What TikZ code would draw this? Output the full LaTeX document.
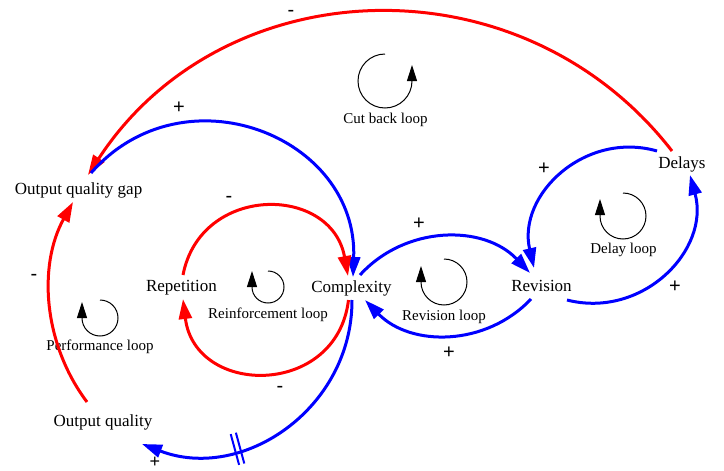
\documentclass[tikz,border=0pt]{standalone}
\usepackage{fontspec}
\setmainfont{Liberation Serif}
\newfontfamily\signfont{Liberation Sans}
\usetikzlibrary{arrows.meta}
\begin{document}
\begin{tikzpicture}[x=1pt,y=-1pt,
  var/.style={font=\fontsize{17}{20}\selectfont, inner sep=0pt, anchor=base},
  looplbl/.style={font=\fontsize{15}{18}\selectfont, inner sep=0pt, anchor=base},
  sgn/.style={font=\signfont\fontsize{20}{24}\selectfont, inner sep=0pt},
  poslink/.style={draw=blue, line width=3pt, -{Triangle[length=20pt,width=13pt]}},
  neglink/.style={draw=red, line width=3pt, -{Triangle[length=20pt,width=13pt]}},
  loopsym/.style={draw=black, line width=1pt, -{Triangle[length=16pt,width=10pt]}},
  delaybar/.style={draw=blue, line width=2pt},
]
\useasboundingbox (0,0) rectangle (724,471);

% variables
\node[var] (gap)    at (78.5,194)  {Output quality gap};
\node[var] (delays) at (682,168)   {Delays};
\node[var] (rep)    at (181.5,291.7) {Repetition};
\node[var] (cplx)   at (351.5,292.7) {Complexity};
\node[var] (rev)    at (541.5,291.7) {Revision};
\node[var] (oq)     at (103,426.7) {Output quality};

% loop labels
\node[looplbl] (cutlbl)  at (385.5,123) {Cut back loop};
\node[looplbl] (dellbl)  at (623.5,253) {Delay loop};
\node[looplbl] (reinlbl) at (268,318)   {Reinforcement loop};
\node[looplbl] (revlbl)  at (444,320)   {Revision loop};
\node[looplbl] (perflbl) at (100,350.7) {Performance loop};

% connector end points
\coordinate (dOut)  at (672,151);
\coordinate (gIn)   at (88,175);
\coordinate (gOut)  at (91,173);
\coordinate (cIn1)  at (353,277);
\coordinate (rOut)  at (183,275);
\coordinate (cIn2)  at (348,276);
\coordinate (cOut1) at (348.5,300);
\coordinate (rIn)   at (183,299);
\coordinate (cOut2) at (352,300);
\coordinate (qIn)   at (142,444);
\coordinate (cOut3) at (360,275);
\coordinate (vIn1)  at (530,273);
\coordinate (vOut1) at (531,299);
\coordinate (cIn3)  at (365,300);
\coordinate (dOut2) at (657,151);
\coordinate (vIn2)  at (534,268);
\coordinate (vOut2) at (567,300);
\coordinate (dIn)   at (690,175);
\coordinate (qOut)  at (87,402);
\coordinate (gIn2)  at (73,202);

% connectors
\draw[neglink] (dOut) .. controls (520.9,-43.8) and (222.6,-31.5) .. (gIn);
\draw[poslink] (gOut) .. controls (183.8,67.1) and (358.1,136.3) .. (cIn1);
\draw[neglink] (rOut) .. controls (200.7,183.7) and (331.4,184.5) .. (cIn2);
\draw[neglink] (cOut1) .. controls (336.8,397.7) and (195,396.9) .. (rIn);
\draw[poslink] (cOut2) .. controls (352.3,408.1) and (242.9,482.7) .. (qIn);
\draw[poslink] (cOut3) .. controls (405.4,225.1) and (483.5,224.2) .. (vIn1);
\draw[poslink] (vOut1) .. controls (486.1,346.7) and (410.5,347.1) .. (cIn3);
\draw[poslink] (dOut2) .. controls (584.9,130.4) and (517.1,194.9) .. (vIn2);
\draw[poslink] (vOut2) .. controls (642.4,319.2) and (710.4,250.1) .. (dIn);
\draw[neglink] (qOut) .. controls (43.3,343.9) and (37.8,265.6) .. (gIn2);

% delay mark
\draw[delaybar] (235.9,432.7) -- (244.3,463.5);
\draw[delaybar] (230.7,434.1) -- (239.1,464.9);

% polarity signs
\node[sgn] (s1)  at (291,13)  {-};
\node[sgn] (s2)  at (179,108) {+};
\node[sgn] (s3)  at (229,199) {-};
\node[sgn] (s4)  at (280,389) {-};
\node[sgn,font=\signfont\fontsize{18}{20}\selectfont] (s5) at (155,462) {+};
\node[sgn] (s6)  at (419,224) {+};
\node[sgn] (s7)  at (449,353) {+};
\node[sgn] (s8)  at (544,169) {+};
\node[sgn] (s9)  at (675,287) {+};
\node[sgn] (s10) at (34,277)  {-};

% loop symbols
\draw[loopsym] (385,54) arc[start angle=270, end angle=0, radius=27] -- (412,65);
\draw[loopsym] (623,193) arc[start angle=-90, end angle=180, radius=23] -- (600,199);
\draw[loopsym] (444,259) arc[start angle=-90, end angle=180, radius=23] -- (421,266);
\draw[loopsym] (268,271) arc[start angle=-90, end angle=180, radius=16] -- (252,271);
\draw[loopsym] (100,300) arc[start angle=-90, end angle=180, radius=18] -- (82,302);
\end{tikzpicture}
\end{document}
